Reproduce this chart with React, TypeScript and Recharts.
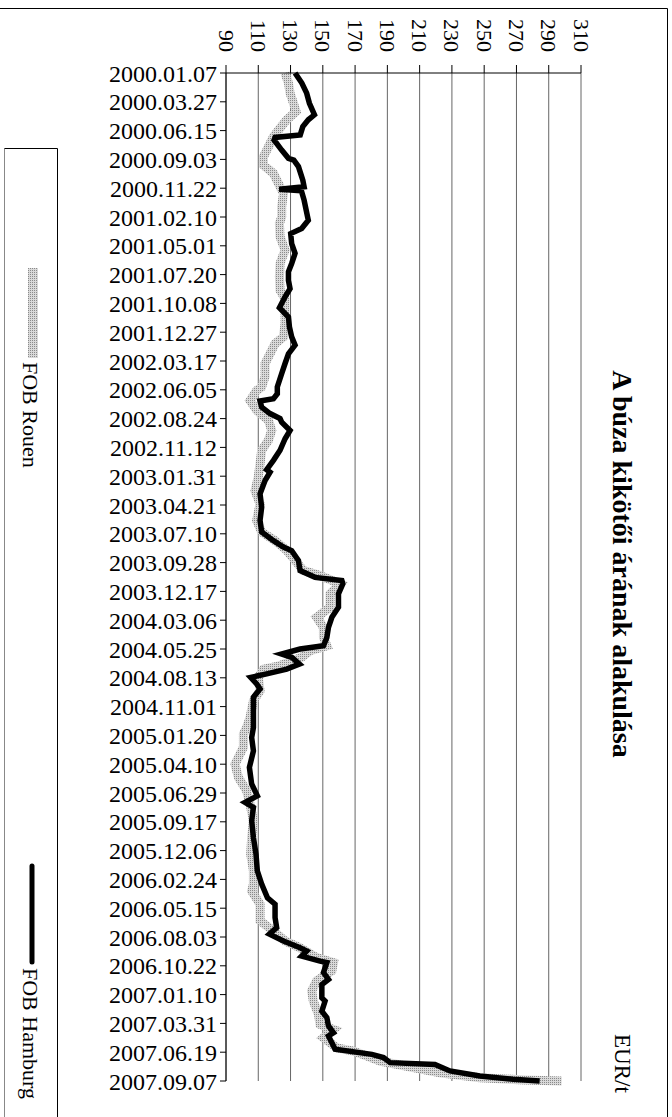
import { CartesianGrid, Line, LineChart, XAxis, YAxis } from 'recharts';

// date labels on the category axis, one every 80 days from 2000.01.07
const dateLabels = [
  '2000.01.07', '2000.03.27', '2000.06.15', '2000.09.03', '2000.11.22',
  '2001.02.10', '2001.05.01', '2001.07.20', '2001.10.08', '2001.12.27',
  '2002.03.17', '2002.06.05', '2002.08.24', '2002.11.12', '2003.01.31',
  '2003.04.21', '2003.07.10', '2003.09.28', '2003.12.17', '2004.03.06',
  '2004.05.25', '2004.08.13', '2004.11.01', '2005.01.20', '2005.04.10',
  '2005.06.29', '2005.09.17', '2005.12.06', '2006.02.24', '2006.05.15',
  '2006.08.03', '2006.10.22', '2007.01.10', '2007.03.31', '2007.06.19',
  '2007.09.07',
];
const LABEL_STEP = 80;
const dayTicks = dateLabels.map((_, i) => i * LABEL_STEP);
const lastDay = dayTicks[dayTicks.length - 1];

const priceTicks = [90, 110, 130, 150, 170, 190, 210, 230, 250, 270, 290, 310];

// FOB Rouen, days since 2000.01.07 and EUR/t
const rouenDays = [
  0, 28, 56, 84, 107, 130, 153, 177, 205, 233, 256, 279, 307, 335, 372, 400,
  418, 455, 492, 529, 566, 604, 627, 659, 696, 733, 752, 780, 807, 844, 872,
  882, 910, 937, 965, 993, 1020, 1048, 1085, 1122, 1160, 1197, 1243, 1275,
  1299, 1326, 1354, 1382, 1396, 1419, 1447, 1484, 1512, 1540, 1568, 1591,
  1605, 1623, 1646, 1656, 1679, 1716, 1744, 1790, 1818, 1836, 1873, 1920,
  1957, 1994, 2031, 2077, 2124, 2170, 2216, 2253, 2272, 2309, 2355, 2383,
  2411, 2430, 2457, 2471, 2494, 2522, 2550, 2578, 2615, 2643, 2657, 2680,
  2708, 2717, 2731, 2745, 2759, 2763, 2777, 2791, 2797, 2800,
];
const rouenPrices = [
  126.6, 128.7, 129.7, 131.8, 133.4, 127.6, 123.5, 119.4, 116.3, 113.2, 113.2,
  119.4, 122.5, 125.6, 124.5, 124.5, 123.1, 123.5, 126.6, 123.5, 123.1, 123.5,
  126.6, 126.6, 126.6, 125.6, 120.4, 117.3, 114.2, 114.2, 112.1, 109, 104.9,
  109, 116.3, 118.3, 116.3, 112.1, 111.1, 110, 108, 111.1, 109, 112.1, 120.4,
  127.6, 132.8, 138, 148.3, 160.7, 154.5, 154.5, 146.2, 150.4, 150.4, 152.5,
  142.1, 136.9, 123.5, 113.2, 110, 111.1, 107, 104.9, 102.8, 100.8, 100.8,
  95.6, 97.7, 102.8, 104.9, 107, 105.9, 105.3, 107, 107, 105.9, 111.1, 111.1,
  119.4, 126.6, 135.9, 146.2, 156.6, 155.6, 146.2, 143.1, 144.1, 147.3, 148.3,
  156.6, 150.4, 158.7, 169, 177.3, 185.5, 202, 206, 222.6, 247.3, 275, 298,
];

// FOB Hamburg (null = no quotation)
const hamburgDays = [
  0, 28, 56, 84, 116, 130, 149, 172, 179, 186, 214, 237, 242, 260, 298, 316,
  323, 327, 353, 409, 432, 446, 474, 501, 529, 552, 576, 599, 622, 652, 678,
  705, 733, 756, 780, 807, 835, 872, 891, 905, 911, 928, 946, 960, 970, 993,
  1016, 1048, 1076, 1102, 1109, 1132, 1169, 1206, 1243, 1275, 1299, 1317,
  1327, 1354, 1382, 1401, 1410, 1419, 1447, 1484, 1512, 1540, 1568, 1591,
  1600, 1614, 1623, 1642, 1656, 1669, 1679, 1697, 1711, 1734, 1771, 1818,
  1846, 1883, 1929, 1975, 2008, 2026, 2040, 2077, 2124, 2170, 2216, 2253,
  2291, 2309, 2346, 2374, 2392, 2411, 2430, 2439, 2453, 2467, 2471, 2499,
  2518, 2532, 2569, 2578, 2606, 2624, 2647, 2666, 2675, 2712, 2720, 2726,
  2735, 2749, 2754, 2772, 2786, 2795, 2800,
];
const hamburgPrices = [
  132.8, 137, 140, 141.7, 144.8, 141, 137.6, 136, 120.4, 119.8, 124.5, 128.7,
  132, 134.9, 137.6, 138.4, 123, 136.7, 138.4, 141, 136.9, 130.1, 130.7, 132.8,
  130.7, 128.7, 128.7, 129.7, 126.6, 123.1, 128.7, 129.3, 130.7, 132.8, 128.7,
  126.6, 124.5, 121.8, 121.8, 119.4, 111.1, 112.1, 117.3, 123.5, 124.5, 129.7,
  126.6, 123.5, 119.4, 115.2, 117.3, 114.2, 111.1, 112.1, 111.1, 112.1, 119.4,
  125.6, 130.7, 134.9, 135.9, 145.2, 161.8, 162.4, 159.7, 159.7, 155.6, 153.5,
  152.5, 150.4, 135.9, 124.5, 130.7, 135.5, 127.6, 115.2, 105.3, 109, 111.1,
  107, 107, 107, 105.9, 107, 104.5, 105.9, 109.4, 101.8, 107, 105.9, 107, 108.6,
  109.4, 112.1, 115.7, 120.4, 120.4, 121.4, 116.9, 125.6, 135.9, 140, 136.9,
  148.3, 152.5, 150.4, 153.5, 149.4, 149.4, 151.4, 149.4, 152.5, 153.5, 156.6,
  153.5, 157.6, null, 180.4, 187.6, 191.7, 219.5, 228.8, 247.3, 267.9, 284.4,
];

const rouenData = rouenDays.map((day, i) => ({ day, price: rouenPrices[i] }));
const hamburgData = hamburgDays.map((day, i) => ({ day, price: hamburgPrices[i] }));

const FONT = "'Liberation Serif', 'Times New Roman', serif";

function PriceTick(props: any) {
  const { x, y, payload } = props;
  return (
    <text
      transform={`translate(${x}, ${y - 11}) rotate(90)`}
      textAnchor="end"
      dominantBaseline="central"
      fontFamily={FONT}
      fontSize={22}
      fill="#000"
    >
      {payload.value}
    </text>
  );
}

export default function App() {
  return (
    <div style={{ position: 'absolute', left: 0, top: 0, width: 672, height: 1117, background: '#fff' }}>
      <LineChart
        width={672}
        height={1117}
        layout="vertical"
        margin={{ top: 0, right: 91, bottom: 36, left: 0 }}
      >
        <defs>
          <pattern id="rouenDots" width="2" height="2" patternUnits="userSpaceOnUse">
            <rect width="2" height="2" fill="#d9d9d9" />
            <rect width="1" height="1" fill="#8a8a8a" />
          </pattern>
        </defs>
        <CartesianGrid horizontal={false} stroke="#666" />
        <XAxis
          type="number"
          orientation="top"
          domain={[90, 310]}
          ticks={priceTicks}
          interval={0}
          height={73}
          tickSize={8}
          tick={<PriceTick />}
          axisLine={{ stroke: '#000' }}
          tickLine={{ stroke: '#000' }}
        />
        <YAxis
          type="number"
          dataKey="day"
          domain={[0, lastDay]}
          ticks={dayTicks}
          interval={0}
          width={226}
          tickSize={6}
          tickMargin={3}
          tickFormatter={(d: number) => dateLabels[Math.round(d / LABEL_STEP)]}
          tick={{ fill: '#000', fontSize: 24, fontFamily: FONT }}
          axisLine={{ stroke: '#000' }}
          tickLine={{ stroke: '#000' }}
        />
        <Line
          data={rouenData}
          dataKey="price"
          name="FOB Rouen"
          stroke="url(#rouenDots)"
          strokeWidth={9}
          dot={false}
          type="linear"
          isAnimationActive={false}
        />
        <Line
          data={hamburgData}
          dataKey="price"
          name="FOB Hamburg"
          stroke="#000"
          strokeWidth={5.5}
          dot={false}
          type="linear"
          isAnimationActive={false}
        />
      </LineChart>
      <svg
        width={672}
        height={1117}
        style={{ position: 'absolute', left: 0, top: 0, pointerEvents: 'none' }}
      >
        <defs>
          <pattern id="legendDots" width="2" height="2" patternUnits="userSpaceOnUse">
            <rect width="2" height="2" fill="#d9d9d9" />
            <rect width="1" height="1" fill="#8a8a8a" />
          </pattern>
        </defs>
        <line x1={0} y1={8.5} x2={667.5} y2={8.5} stroke="#000" />
        <line x1={667.5} y1={8.5} x2={667.5} y2={1117} stroke="#000" />
        <line x1={57.5} y1={148.5} x2={57.5} y2={1117} stroke="#000" />
        <line x1={4.5} y1={148.5} x2={4.5} y2={1117} stroke="#888" />
        <line x1={4.5} y1={148.5} x2={57.5} y2={148.5} stroke="#000" />
        <rect x={28} y={268} width={10} height={90} fill="url(#legendDots)" />
        <text
          transform="translate(30, 362) rotate(90)"
          dominantBaseline="central"
          fontFamily={FONT}
          fontSize={22}
        >
          FOB Rouen
        </text>
        <line x1={32} y1={866} x2={32} y2={962} stroke="#000" strokeWidth={5} strokeLinecap="round" />
        <text
          transform="translate(30, 968) rotate(90)"
          dominantBaseline="central"
          fontFamily={FONT}
          fontSize={22}
        >
          FOB Hamburg
        </text>
        <text
          transform="translate(622, 564) rotate(90)"
          textAnchor="middle"
          dominantBaseline="central"
          fontFamily={FONT}
          fontSize={28}
          fontWeight="bold"
        >
          A búza kikötői árának alakulása
        </text>
        <text
          transform="translate(622, 1034) rotate(90)"
          dominantBaseline="central"
          fontFamily={FONT}
          fontSize={23}
        >
          EUR/t
        </text>
      </svg>
    </div>
  );
}
